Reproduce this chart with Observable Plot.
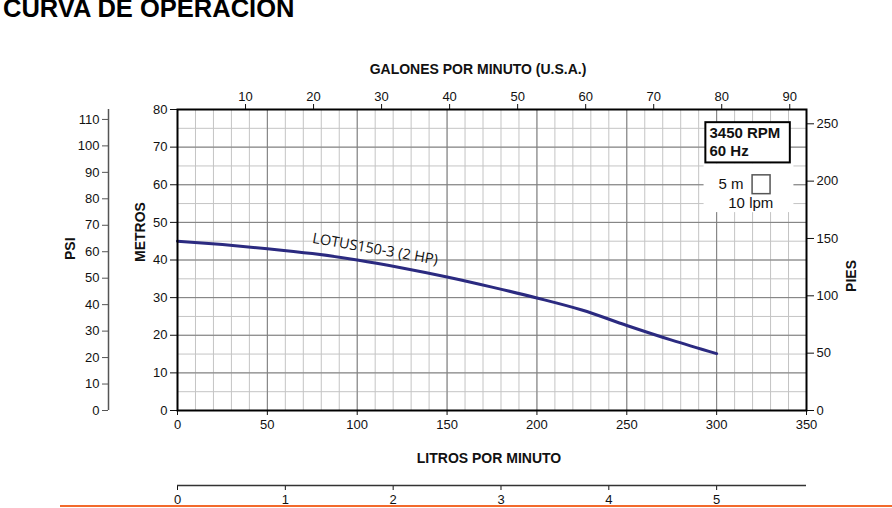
<!DOCTYPE html>
<html>
<head>
<meta charset="utf-8">
<script src="https://cdn.jsdelivr.net/npm/d3@7"></script>
<script src="https://cdn.jsdelivr.net/npm/@observablehq/plot@0.6"></script>
<style>
  body { margin: 0; background: #fff; font-family: "Liberation Sans", Arial, sans-serif; }
  #wrap { position: relative; width: 892px; height: 508px; overflow: hidden; }
  #titulo { position: absolute; left: 3px; top: -4px; font-size: 25.5px; line-height: 24px; font-weight: bold; color: #000; white-space: nowrap; }
  #raya { position: absolute; left: 60px; right: 0; top: 505px; height: 2px; background: #f26a2c; }
  #chart { position: absolute; left: 0; top: 0; }
</style>
</head>
<body>
<div id="wrap">
  <div id="chart"></div>
  <div id="titulo">CURVA DE OPERACION</div>
  <div id="raya"></div>
</div>
<script>
// curva de la bomba
const caudalLpm = [0, 25, 50, 75, 100, 125, 150, 175, 200, 225, 250, 275, 300];
const alturaM = [45, 44.1, 43.0, 41.7, 40.0, 37.9, 35.5, 32.8, 29.9, 26.7, 22.6, 18.7, 15.1];
const nombreCurva = "LOTUS150-3 (2 HP)";

// etiquetas de los ejes
const ticksLpm = [0, 50, 100, 150, 200, 250, 300, 350];
const ticksGpm = [10, 20, 30, 40, 50, 60, 70, 80, 90];
const ticksLps = [0, 1, 2, 3, 4, 5];
const ticksM = [0, 10, 20, 30, 40, 50, 60, 70, 80];
const ticksPsi = [0, 10, 20, 30, 40, 50, 60, 70, 80, 90, 100, 110];
const ticksPies = [0, 50, 100, 150, 200, 250];

// factores de conversión
const LPM_POR_GPM = 3.78541;
const PSI_POR_M = 1.4219;
const M_POR_PIE = 0.3048;

const curva = caudalLpm.map((q, i) => ({lpm: q, m: alturaM[i]}));

// leyenda (en unidades de la gráfica)
const cajaRpm = [{x1: 294, x2: 341, y1: 65.8, y2: 76.5}];
const zonaEscala = [{x1: 293, x2: 343, y1: 52.6, y2: 65.6}];
const cuadro = [{x1: 320, x2: 330, y1: 57.5, y2: 62.5}];

const negro = "#111";
const fuente = "Liberation Sans, Arial, sans-serif";

let chart = Plot.plot({
  width: 892,
  height: 508,
  marginLeft: 177,
  marginRight: 86,
  marginTop: 109,
  marginBottom: 98,
  style: {fontFamily: fuente, fontSize: "13px", color: negro, background: "transparent"},
  x: {domain: [0, 350]},
  y: {domain: [0, 80]},
  marks: [
    // cuadrícula
    Plot.ruleX(d3.range(0, 351, 10), {stroke: "#c4c4c4", strokeWidth: 1}),
    Plot.ruleY(d3.range(0, 81, 5), {stroke: "#c4c4c4", strokeWidth: 1}),
    Plot.ruleX(ticksLpm, {stroke: "#7d7d7d", strokeWidth: 1}),
    Plot.ruleY(ticksM, {stroke: "#7d7d7d", strokeWidth: 1}),

    // leyenda
    Plot.rect(zonaEscala, {x1: "x1", x2: "x2", y1: "y1", y2: "y2", fill: "white"}),
    Plot.rect(cajaRpm, {x1: "x1", x2: "x2", y1: "y1", y2: "y2", fill: "white", stroke: "black", strokeWidth: 2}),
    Plot.text(["3450 RPM"], {x: 296, y: 73.6, textAnchor: "start", fontWeight: "bold", fontSize: 15}),
    Plot.text(["60 Hz"], {x: 296, y: 68.8, textAnchor: "start", fontWeight: "bold", fontSize: 15}),
    Plot.text(["5 m"], {x: 315, y: 60.1, textAnchor: "end", fontSize: 15}),
    Plot.rect(cuadro, {x1: "x1", x2: "x2", y1: "y1", y2: "y2", fill: "none", stroke: "#555", strokeWidth: 1.5}),
    Plot.text(["10 lpm"], {x: 319, y: 55.0, fontSize: 15}),

    // curva
    Plot.line(curva, {x: "lpm", y: "m", stroke: "#2b2a80", strokeWidth: 3, curve: "monotone-x"}),
    Plot.text([nombreCurva], {x: 110, y: 42.9, rotate: 10, fontSize: 14.5, fontFamily: "Open Sans"}),

    // ejes
    Plot.axisY(ticksM, {anchor: "left", label: null, tickSize: 7, fontSize: 13}),
    Plot.axisY(ticksPsi.map(p => p / PSI_POR_M), {anchor: "left", dx: -69, label: null, tickSize: 6, fontSize: 13, stroke: "#555", tickFormat: d => Math.round(d * PSI_POR_M)}),
    Plot.ruleX([0], {y1: 0, y2: 80, dx: -69, stroke: "#555", strokeWidth: 1.5}),
    Plot.axisY(ticksPies.map(f => f * M_POR_PIE), {anchor: "right", label: null, tickSize: 7, fontSize: 13, tickFormat: d => Math.round(d / M_POR_PIE)}),
    Plot.axisX(ticksLpm, {anchor: "bottom", label: null, tickSize: 5, fontSize: 13}),
    Plot.axisX(ticksGpm.map(g => g * LPM_POR_GPM), {anchor: "top", label: null, tickSize: 6, fontSize: 13, tickFormat: d => Math.round(d / LPM_POR_GPM)}),
    Plot.axisX(ticksLps.map(s => s * 60), {anchor: "bottom", dy: 75, label: null, tickSize: 5, fontSize: 13, tickFormat: d => Math.round(d / 60)}),
    Plot.ruleY([0], {x1: 0, x2: 350, dy: 75, stroke: "#333", strokeWidth: 1.5}),

    // títulos de ejes
    Plot.text(["GALONES POR MINUTO (U.S.A.)"], {frameAnchor: "top", dx: -14, dy: -45, fontWeight: "bold", fontSize: 14}),
    Plot.text(["LITROS POR MINUTO"], {frameAnchor: "bottom", dx: -3, dy: 52, fontWeight: "bold", fontSize: 14}),
    Plot.text(["METROS"], {frameAnchor: "left", dx: -37, dy: 2, rotate: -90, fontWeight: "bold", fontSize: 14}),
    Plot.text(["PSI"], {frameAnchor: "left", dx: -107, rotate: -90, fontWeight: "bold", fontSize: 14}),
    Plot.text(["PIES"], {frameAnchor: "right", dx: 45, rotate: -90, fontWeight: "bold", fontSize: 14}),

    Plot.frame({stroke: "black", strokeWidth: 2})
  ]
});

d3.select("#chart").append(() => chart);
</script>
</body>
</html>
